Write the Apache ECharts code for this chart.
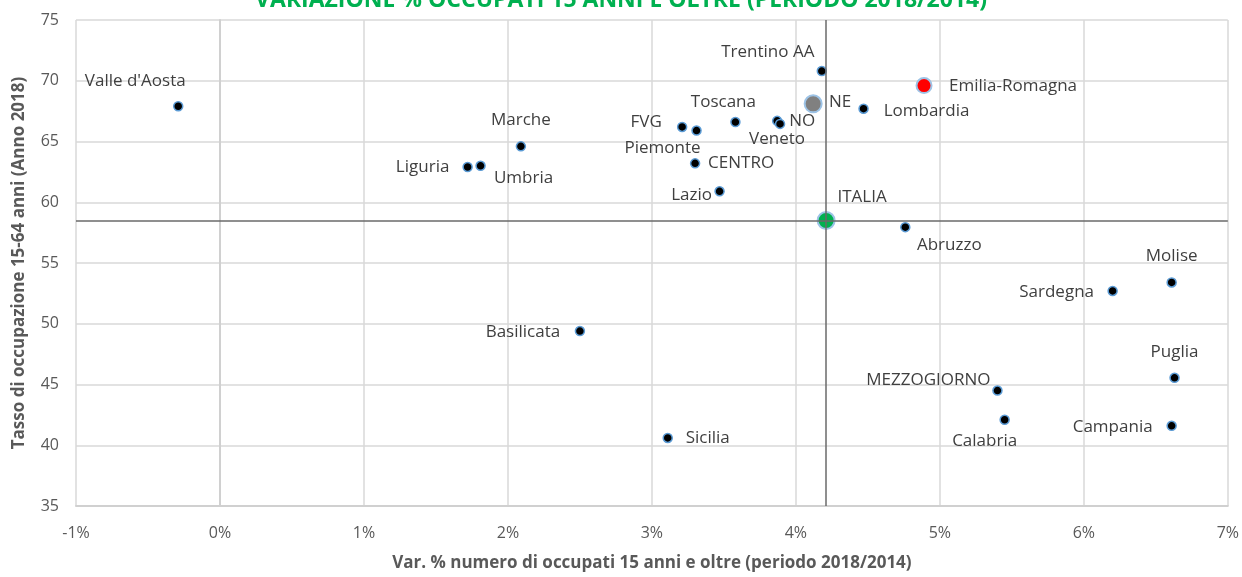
<!DOCTYPE html>
<html>
<head>
<meta charset="utf-8">
<title>Variazione occupati</title>
<script src="https://cdn.jsdelivr.net/npm/echarts@6/dist/echarts.min.js"></script>
<style>
  html, body { margin: 0; padding: 0; background: #fff; }
  #chart { width: 1242px; height: 577px; }
</style>
</head>
<body>
<div id="chart"></div>
<script>
// regioni / ripartizioni
var regioni = ["Valle d'Aosta", "Marche", "Liguria", "Umbria", "Basilicata", "Sicilia",
  "FVG", "Piemonte", "CENTRO", "Lazio", "Toscana", "NO", "Veneto", "Trentino AA", "NE",
  "Emilia-Romagna", "Lombardia", "ITALIA", "Abruzzo", "Molise", "Sardegna", "Puglia",
  "MEZZOGIORNO", "Calabria", "Campania"];
// Var. % numero di occupati 15 anni e oltre (2018/2014)
var varOccupati = [-0.29, 2.09, 1.72, 1.81, 2.50, 3.11,
  3.21, 3.31, 3.30, 3.47, 3.58, 3.87, 3.89, 4.18, 4.12,
  4.89, 4.47, 4.21, 4.76, 6.61, 6.20, 6.63,
  5.40, 5.45, 6.61];
// Tasso di occupazione 15-64 anni (2018)
var tassoOccupazione = [67.9, 64.6, 62.9, 63.0, 49.4, 40.6,
  66.2, 65.9, 63.2, 60.9, 66.6, 66.7, 66.45, 70.8, 68.1,
  69.6, 67.7, 58.5, 57.95, 53.4, 52.7, 45.55,
  44.5, 42.1, 41.6];
var xTicks = [-1, 0, 1, 2, 3, 4, 5, 6, 7];
var yTicks = [35, 40, 45, 50, 55, 60, 65, 70, 75];

// posizione etichette (centro testo rispetto al punto, px)
var labelOffset = {
  "Valle d'Aosta": [-43, -25], "Marche": [0, -26], "Liguria": [-45, 0], "Umbria": [43, 12],
  "Basilicata": [-57, 1], "Sicilia": [40, 0], "FVG": [-36, -5], "Piemonte": [-34, 18],
  "CENTRO": [46, 0], "Lazio": [-28, 4], "Toscana": [-12, -20], "NO": [25, 0],
  "Veneto": [-3, 15], "Trentino AA": [-54, -19], "NE": [27, -2], "Emilia-Romagna": [89, 1],
  "Lombardia": [63, 2], "ITALIA": [36, -23], "Abruzzo": [44, 18], "Molise": [0, -26],
  "Sardegna": [-56, 1], "Puglia": [0, -26], "MEZZOGIORNO": [-69, -10], "Calabria": [-20, 21],
  "Campania": [-59, 1]
};
// punti evidenziati
var highlight = {
  "NE": { color: "#808080", size: 17 },
  "Emilia-Romagna": { color: "#ff0000", size: 15 },
  "ITALIA": { color: "#00b050", size: 17 }
};

var italiaIdx = regioni.indexOf("ITALIA");

var points = regioni.map(function (n, i) {
  var h = highlight[n];
  return {
    name: n,
    value: [varOccupati[i], tassoOccupazione[i]],
    symbolSize: h ? h.size : 9,
    itemStyle: {
      color: h ? h.color : "#000",
      borderColor: h ? "#9dc3e6" : "#5b9bd5",
      borderWidth: h ? 2 : 1.5,
      opacity: 1
    },
    label: { offset: labelOffset[n] || [0, 0] }
  };
});

var axisFont = "'Open Sans', 'Noto Sans', sans-serif";

var chart = echarts.init(document.getElementById("chart"));
chart.setOption({
  animation: false,
  title: {
    text: "VARIAZIONE % OCCUPATI 15 ANNI E OLTRE (PERIODO 2018/2014)",
    left: "center",
    top: -16,
    textStyle: { color: "#00b050", fontSize: 23, fontWeight: "bold", fontFamily: axisFont }
  },
  grid: { left: 76, right: 13, top: 20, bottom: 69 },
  xAxis: {
    type: "value",
    min: xTicks[0],
    max: xTicks[xTicks.length - 1],
    interval: 1,
    name: "Var. % numero di occupati 15 anni e oltre (periodo 2018/2014)",
    nameLocation: "middle",
    nameGap: 49,
    nameTextStyle: { color: "#595959", fontSize: 17, fontWeight: "bold", fontFamily: axisFont },
    axisLine: { show: true, lineStyle: { color: "#d0d0d0", width: 2 } },
    axisTick: { show: false },
    axisLabel: { formatter: "{value}%", color: "#595959", fontSize: 16, margin: 19, fontFamily: axisFont },
    splitLine: { show: true, lineStyle: { color: "#d9d9d9", width: 1.5 } }
  },
  yAxis: {
    type: "value",
    min: yTicks[0],
    max: yTicks[yTicks.length - 1],
    interval: 5,
    name: "Tasso di occupazione 15-64 anni (Anno 2018)",
    nameLocation: "middle",
    nameGap: 48,
    nameTextStyle: { color: "#595959", fontSize: 17, fontWeight: "bold", fontFamily: axisFont },
    axisLine: { show: true, lineStyle: { color: "#d0d0d0", width: 2 } },
    axisTick: { show: false },
    axisLabel: { color: "#595959", fontSize: 16, margin: 17, fontFamily: axisFont },
    splitLine: { show: true, lineStyle: { color: "#d9d9d9", width: 1.5 } }
  },
  series: [
    {
      // linee di riferimento ITALIA
      type: "scatter",
      data: [],
      z: 1,
      silent: true,
      markLine: {
        symbol: "none",
        silent: true,
        label: { show: false },
        lineStyle: { color: "#6a6a6a", width: 1.5, type: "solid", opacity: 1 },
        data: [
          { xAxis: varOccupati[italiaIdx] },
          { yAxis: tassoOccupazione[italiaIdx] }
        ]
      }
    },
    {
      type: "scatter",
      z: 3,
      data: points,
      label: {
        show: true,
        formatter: "{b}",
        position: "inside",
        color: "#3f3f3f",
        fontSize: 17,
        fontFamily: axisFont
      }
    }
  ]
});
</script>
</body>
</html>
